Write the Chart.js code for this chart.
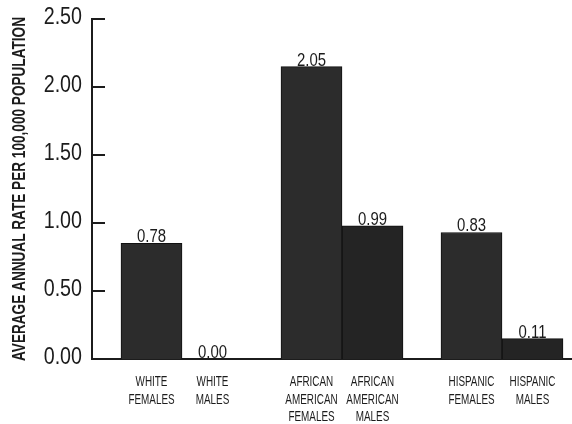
<!DOCTYPE html>
<html><head><meta charset="utf-8">
<script src="https://cdn.jsdelivr.net/npm/chart.js@4.4.1/dist/chart.umd.min.js"></script>
<style>html,body{margin:0;padding:0;background:#fff}#wrap{width:572px;height:424px;position:relative}</style>
</head><body><div id="wrap"><canvas id="c"></canvas></div>
<script>
// ---- data ----
const groups = [1, 2, 3];
const barLabels = [
  ["WHITE", "FEMALES"], ["WHITE", "MALES"],
  ["AFRICAN", "AMERICAN", "FEMALES"], ["AFRICAN", "AMERICAN", "MALES"],
  ["HISPANIC", "FEMALES"], ["HISPANIC", "MALES"]
];
const femaleValues = [0.85, 2.15, 0.93];
const maleValues = [0.00, 0.98, 0.15];
const femaleLabels = ["0.78", "2.05", "0.83"];
const maleLabels = ["0.00", "0.99", "0.11"];
const yTitle = "AVERAGE ANNUAL RATE PER 100,000 POPULATION";

const FAM = "'Liberation Sans', Arial, sans-serif";
const INK = '#1c1c1c';

function condText(ctx, text, x, y, font, sx, align, baseline) {
  ctx.save();
  ctx.translate(x, y);
  ctx.scale(sx, 1);
  ctx.font = font;
  ctx.textAlign = align;
  ctx.textBaseline = baseline;
  ctx.fillText(text, 0, 0);
  ctx.restore();
}

const decor = {
  id: 'decor',
  afterDatasetsDraw(chart) {
    const ctx = chart.ctx;
    const ca = chart.chartArea;
    const ys = chart.scales.y;
    ctx.save();
    ctx.fillStyle = INK;
    // inward tick marks + tick labels
    ctx.strokeStyle = INK; ctx.lineWidth = 2;
    ys.ticks.forEach(t => {
      const y = Math.round(ys.getPixelForValue(t.value));
      ctx.beginPath(); ctx.moveTo(ca.left, y); ctx.lineTo(ca.left + 13, y); ctx.stroke();
      condText(ctx, Number(t.value).toFixed(2), ca.left - 10, y - 2, "24px " + FAM, 0.82, 'right', 'middle');
    });
    // y title
    ctx.save();
    ctx.translate(20, (ca.top + ca.bottom) / 2 + 0);
    ctx.rotate(-Math.PI / 2);
    ctx.font = "bold 18px " + FAM;
    const w = ctx.measureText(yTitle).width;
    ctx.scale(344 / w, 1);
    ctx.textAlign = 'center'; ctx.textBaseline = 'middle';
    ctx.fillText(yTitle, 0, 0);
    ctx.restore();
    // bar labels
    const valueLabels = [femaleLabels, maleLabels];
    chart.data.datasets.forEach((ds, di) => {
      const meta = chart.getDatasetMeta(di);
      meta.data.forEach((el, i) => {
        condText(ctx, valueLabels[di][i], el.x, el.y + 3, "18px " + FAM, 0.83, 'center', 'bottom');
        const lines = barLabels[i * 2 + di];
        lines.forEach((ln, k) => condText(ctx, ln, el.x, ca.bottom + 23 + k * 17.5, "15px " + FAM, 0.66, 'center', 'middle'));
      });
    });
    ctx.restore();
  }
};

new Chart(document.getElementById('c'), {
  type: 'bar',
  data: {
    labels: groups,
    datasets: [
      { label: 'Females', data: femaleValues, backgroundColor: '#2c2c2c', borderColor: '#111', borderWidth: 1 },
      { label: 'Males', data: maleValues, backgroundColor: '#242424', borderColor: '#111', borderWidth: 1 }
    ]
  },
  options: {
    responsive: true, maintainAspectRatio: false, animation: false,
    devicePixelRatio: 1,
    barThickness: 61,
    layout: { padding: { top: 19, right: 0, bottom: 65, left: 0 } },
    plugins: { legend: { display: false }, tooltip: { enabled: false } },
    scales: {
      x: {
        type: 'linear', min: 0.4375, max: 3.4375, offset: false,
        grid: { display: false, drawTicks: false },
        border: { display: true, color: INK, width: 2 },
        ticks: { display: false }
      },
      y: {
        min: 0, max: 2.5,
        afterFit(s) { s.width = 92; },
        grid: { display: false, drawTicks: false },
        border: { display: true, color: INK, width: 2 },
        ticks: { display: false, stepSize: 0.5 },
        title: { display: false, text: yTitle }
      }
    }
  },
  plugins: [decor]
});
</script>
</body></html>
